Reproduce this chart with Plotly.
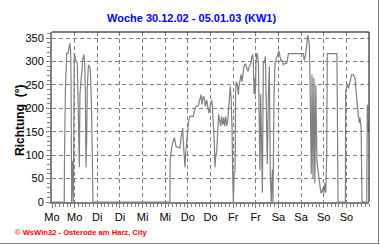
import plotly.graph_objects as go

# hours since Monday 30.12.02 00:00
hours = [0, 6.5, 6.6, 7.1, 7.8, 8.7, 9.0, 9.5, 9.9, 10.1, 10.4, 10.8, 11.3, 11.8, 12.5, 13.1, 13.4, 13.8,
         14.1, 14.5, 14.8, 15.7, 16.3, 16.8, 17.3, 17.7, 18.0, 18.4, 18.7, 19.3, 19.8, 20.3, 20.9, 21.4, 21.7,
         62.5, 62.6, 63.4, 64.0, 64.7, 65.2, 65.7, 67.0, 67.8, 68.4, 68.9, 69.3, 69.6, 70.1, 70.5, 70.8, 71.4,
         71.9, 72.4, 73.1, 74.9, 75.8, 76.3, 77.5, 78.4, 79.0, 79.5, 80.2, 80.7, 81.3, 82.0, 82.5, 83.1, 83.7,
         84.6, 85.0, 85.5, 86.0, 86.4, 86.7, 87.3, 87.8, 88.3, 88.9, 89.4, 89.9, 90.5, 91.0, 91.5, 92.0, 92.6,
         93.1, 93.6, 94.0, 94.5, 94.9, 95.4, 95.75, 96.1, 96.6, 97.0, 97.3, 97.7, 98.2, 98.8, 99.1, 99.6, 100.2,
         100.7, 101.05, 101.6, 102.1, 102.6, 103.2, 103.9, 104.6, 105.3, 105.8, 106.4, 106.7, 107.1, 107.4,
         107.8, 108.1, 108.5, 108.8, 109.4, 109.9, 110.2, 110.6, 111.1, 111.5, 112.0, 112.5, 113.1, 113.6,
         114.1, 114.7, 115.2, 115.7, 116.2, 116.8, 117.1, 117.7, 118.2, 118.7, 119.3, 119.8, 120.3, 120.8,
         121.4, 121.9, 122.6, 123.5, 124.4, 125.3, 133.2, 133.7, 134.4, 135.0, 135.5, 136.0, 136.4, 136.7,
         137.1, 137.4, 137.8, 138.3, 138.8, 139.3, 139.8, 140.4, 140.9, 141.4, 141.9, 142.5, 143.0, 143.5,
         144.1, 144.6, 145.1, 145.6, 145.9, 151.0, 151.6, 155.5, 155.6, 156.5, 157.2, 157.9, 158.8, 159.7,
         160.6, 161.1, 161.8, 162.3, 162.9, 163.2, 163.8, 164.3, 166.8, 167.1, 167.5, 168]

direction = [0, 0, 85, 240, 318, 318, 329, 339, 320, 259, 0, 88, 0, 318, 304, 297, 295, 219,
             85, 74, 230, 286, 304, 315, 300, 230, 74, 138, 244, 293, 290, 283, 212, 85, 0,
             0, 88, 116, 127, 137, 132, 119, 116, 116, 137, 148, 158, 127, 95, 74, 102, 137,
             158, 172, 183, 183, 201, 204, 206, 218, 229, 208, 226, 222, 204, 218, 201, 190, 201,
             218, 204, 172, 130, 74, 95, 109, 165, 187, 173, 162, 183, 165, 180, 162, 183, 162,
             173, 208, 236, 247, 222, 160, 63, 0, 66, 66, 236, 257, 250, 229, 247, 257, 272,
             257, 275, 286, 294, 294, 286, 279, 290, 295, 308, 315, 295, 230, 265,
             230, 295, 318, 315, 297, 138, 68, 230, 60, 20, 300, 297, 311, 190,
             81, 230, 290, 60, 0, 70, 0, 230, 297, 304, 311, 318, 322, 311,
             300, 303, 293, 296, 296, 317, 317, 303, 314, 335, 356, 349, 335, 272,
             130, 60, 272, 50, 265, 40, 250, 90, 70, 50, 35, 20, 20, 30,
             20, 40, 20, 100, 317, 317, 0, 0, 236, 250, 243, 257, 272, 272,
             265, 240, 204, 187, 169, 180, 160, 0, 0, 208, 155, 150]

tick_hours = [0, 12, 24, 36, 48, 60, 72, 84, 96, 108, 120, 132, 144, 156]
tick_labels = ["Mo", "Mo", "Di", "Di", "Mi", "Mi", "Do", "Do", "Fr", "Fr", "Sa", "Sa", "So", "So"]
y_ticks = [0, 50, 100, 150, 200, 250, 300, 350]

title_text = "Woche 30.12.02 - 05.01.03 (KW1)"
y_title = "Richtung  (°)"
footer_text = "© WsWin32 - Osterode am Harz, City"

GRAY = "#808080"
FONT = "Liberation Sans, Arial, sans-serif"

fig = go.Figure()
fig.add_trace(go.Scatter(x=hours, y=direction, mode="lines",
                         line=dict(color=GRAY, width=1.2), showlegend=False, hoverinfo="skip"))

W, H = 380, 245
L, R, T, B = 52, 11, 32, 43
pw, ph = W - L - R, H - T - B

def px(x):
    return (x - L) / pw

def py(y):
    return (H - B - y) / ph

fig.update_layout(
    width=W, height=H,
    margin=dict(l=L, r=R, t=T, b=B),
    paper_bgcolor="white", plot_bgcolor="white",
    font=dict(family=FONT, size=11, color="black"),
    xaxis=dict(range=[0, 168], tickmode="array", tickvals=tick_hours, ticktext=tick_labels,
               showgrid=True, gridcolor=GRAY, griddash="4px,3px", gridwidth=1,
               showline=True, linecolor=GRAY, linewidth=2,
               ticks="outside", ticklen=4, tickcolor=GRAY, tickwidth=1,
               minor=dict(tick0=0, dtick=2, ticks="outside", ticklen=3, tickcolor=GRAY, showgrid=False),
               tickfont=dict(size=11), zeroline=False, fixedrange=True),
    yaxis=dict(range=[0, 363], tickmode="array", tickvals=y_ticks,
               showgrid=True, gridcolor=GRAY, griddash="4px,3px", gridwidth=1,
               showline=True, linecolor=GRAY, linewidth=2,
               ticks="outside", ticklen=4, tickcolor=GRAY, tickwidth=1,
               minor=dict(tick0=0, dtick=10, ticks="outside", ticklen=3, tickcolor=GRAY, showgrid=False),
               tickfont=dict(size=11), zeroline=False, fixedrange=True),
    shapes=[
        dict(type="line", xref="paper", yref="paper", x0=0, x1=1, y0=1, y1=1,
             line=dict(color="black", width=1)),
        dict(type="line", xref="paper", yref="paper", x0=1, x1=1, y0=0, y1=1,
             line=dict(color="black", width=1)),
        dict(type="line", xref="paper", yref="paper", x0=px(0), x1=px(379.5), y0=py(243.5), y1=py(243.5),
             line=dict(color=GRAY, width=1)),
        dict(type="line", xref="paper", yref="paper", x0=px(378.5), x1=px(378.5), y0=py(243.5), y1=py(0),
             line=dict(color=GRAY, width=1)),
    ],
    annotations=[
        dict(text=f"<b>{title_text}</b>", xref="paper", yref="paper", x=px(191), y=py(18),
             xanchor="center", yanchor="middle", showarrow=False,
             font=dict(family=FONT, size=11, color="#0000ff")),
        dict(text=f"<b>{y_title}</b>", xref="paper", yref="paper", x=px(20), y=py(121),
             xanchor="center", yanchor="middle", showarrow=False, textangle=-90,
             font=dict(family=FONT, size=12, color="black")),
        dict(text=f"<b>{footer_text}</b>", xref="paper", yref="paper", x=px(13), y=py(232),
             xanchor="left", yanchor="middle", showarrow=False,
             font=dict(family=FONT, size=7.6, color="#ff0000")),
    ],
)

fig.write_html("out.html", config={"displayModeBar": False})
